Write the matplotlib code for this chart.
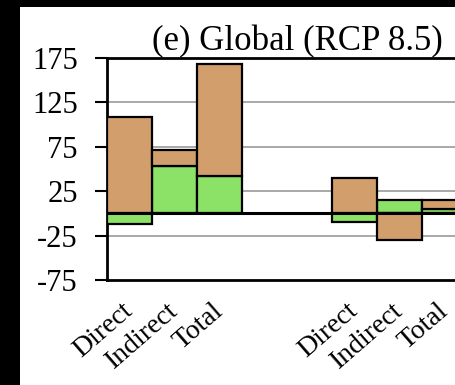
import numpy as np
import matplotlib
matplotlib.use("Agg")
import matplotlib.pyplot as plt
from matplotlib.patches import Rectangle

plt.rcParams['font.family'] = ['Liberation Serif', 'DejaVu Serif']

# Contributions per bar (two groups of Direct / Indirect / Total)
labels = ["Direct", "Indirect", "Total", "Direct", "Indirect", "Total"]
positions = [0, 1, 2, 5, 6, 7]
green_vals = [-12, 53, 42, -10, 15, 5]
brown_vals = [108, 18, 126, 40, -30, 10]
yticks = [175, 125, 75, 25, -25, -75]

brown = "#d29f6c"
green = "#8ce266"

fig = plt.figure(figsize=(4.55, 3.85), dpi=100, facecolor="black")
# white page area inside the black border
page = Rectangle((20 / 455, 0), 1, (385 - 7) / 385, transform=fig.transFigure,
                 facecolor="white", edgecolor="none", zorder=-10)
fig.add_artist(page)

ax = fig.add_axes([107 / 455, 105 / 385, 380 / 455, 222 / 385])
ax.set_facecolor("white")

# stack positive parts upward and negative parts downward from zero
pos_base = np.zeros(len(positions))
neg_base = np.zeros(len(positions))
for vals, col in [(green_vals, green), (brown_vals, brown)]:
    vals = np.array(vals, dtype=float)
    bottoms = np.where(vals >= 0, pos_base, neg_base)
    ax.bar(positions, vals, width=1.0, bottom=bottoms, color=col,
           edgecolor="black", linewidth=1.6, zorder=3)
    pos_base += np.where(vals >= 0, vals, 0)
    neg_base += np.where(vals < 0, vals, 0)

ax.axhline(0, color="black", linewidth=2.2, zorder=4)
for y in yticks[1:-1]:
    ax.axhline(y, color="#9a9a9a", linewidth=1.2, zorder=1)

ax.set_xlim(-0.5, 7.94)
ax.set_ylim(-75, 175)
ax.set_yticks(yticks)
ax.set_yticklabels([str(v) for v in yticks], fontsize=22)
ax.tick_params(axis="y", direction="out", length=9, width=1.5, pad=12)

ax.set_xticks(positions)
ax.set_xticklabels(labels, fontsize=20, rotation=41, ha="right", va="center",
                   rotation_mode="anchor")
ax.tick_params(axis="x", length=0, pad=20)

for side in ["left", "top", "bottom"]:
    ax.spines[side].set_linewidth(2)
    ax.spines[side].set_color("black")
ax.spines["right"].set_visible(False)

ax.set_title("(e) Global (RCP 8.5)", fontsize=25, pad=3)

fig.savefig("out.png", dpi=100, facecolor=fig.get_facecolor())
